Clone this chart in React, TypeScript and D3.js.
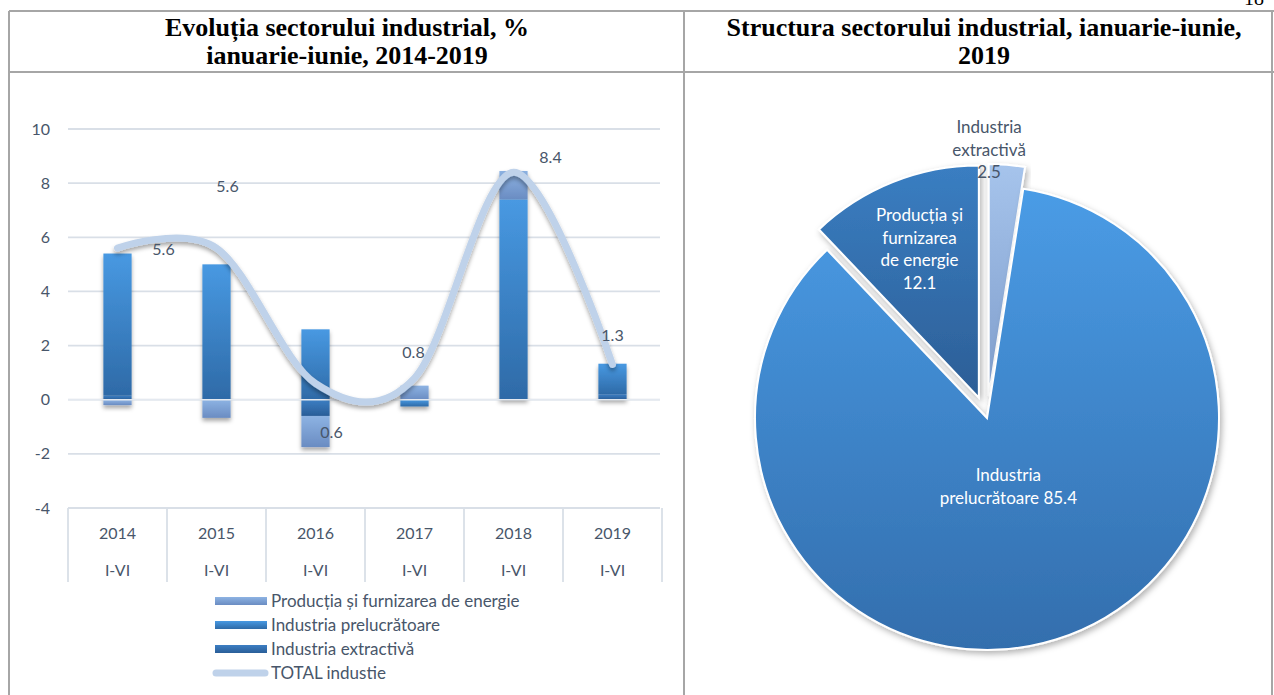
import React from 'react';
import * as d3 from 'd3';

// ---------- data ----------
const years = ['2014', '2015', '2016', '2017', '2018', '2019'];
const periods = ['I-VI', 'I-VI', 'I-VI', 'I-VI', 'I-VI', 'I-VI'];
const extractiva = [0.15, 0, -0.6, 0, 0, 0.2];
const prelucratoare = [5.25, 5.0, 2.6, -0.25, 7.4, 1.13];
const energie = [-0.2, -0.67, -1.15, 0.52, 1.05, 0];
const total = [5.6, 5.6, 0.6, 0.8, 8.4, 1.3];
const totalLabels = ['5.6', '5.6', '0.6', '0.8', '8.4', '1.3'];
const yTicks = [-4, -2, 0, 2, 4, 6, 8, 10];
const legendNames = [
  'Producția și furnizarea de energie',
  'Industria prelucrătoare',
  'Industria extractivă',
  'TOTAL industie',
];

const pieNames = ['Industria extractivă', 'Industria prelucrătoare', 'Producția și furnizarea de energie'];
const pieValues = [2.5, 85.4, 12.1];
const pieLabelLines = [
  ['Industria', 'extractivă', '2.5'],
  ['Industria', 'prelucrătoare 85.4'],
  ['Producția și', 'furnizarea', 'de energie', '12.1'],
];

// ---------- style ----------
const FONT = 'Lato, "Open Sans", sans-serif';
const TXT = '#48566a';
const GRID = '#d9dfe7';
const BORDER = '#a6a6a6';
const labelOffsets = [
  [46, 1], [11, -62], [16, 49], [-1, -26], [37, -15], [0, -29],
];
const pieExplode = [22, 0, 22];
const pieLabelRadius = [247, 72, 160];
const pieLabelDx = [-19, 0, 0];
const pieLabelColor = [TXT, '#ffffff', '#ffffff'];

export default function App() {
  const W = 1274;
  const H = 695;

  const x = d3.scaleBand<string>().domain(years).range([68, 662]).padding(0);
  const y = d3.scaleLinear().domain([-4, 10]).range([508, 129]);
  const cx = (yr: string) => (x(yr) as number) + x.bandwidth() / 2;
  const barW = x.bandwidth() * 0.285;

  const keys = ['extractiva', 'prelucratoare', 'energie'];
  const rows = years.map((yr, i) => ({
    year: yr,
    extractiva: extractiva[i],
    prelucratoare: prelucratoare[i],
    energie: energie[i],
  }));
  const stacked = d3.stack<any>().keys(keys).offset(d3.stackOffsetDiverging)(rows);
  const grad: Record<string, string> = {
    extractiva: 'url(#gExt)',
    prelucratoare: 'url(#gMan)',
    energie: 'url(#gEn)',
  };

  const lineGen = d3
    .line<number>()
    .x((_, i) => cx(years[i]))
    .y((d) => y(d))
    .curve(d3.curveCatmullRom.alpha(0));

  // pie
  const pcx = 987;
  const pcy = 418;
  const R = 232;
  const pieGen = d3.pie<number>().sort(null).value((d) => d);
  const arcs = pieGen(pieValues);
  const arcGen = d3.arc<any>().innerRadius(0).outerRadius(R);
  const pieGrad = ['url(#pExt)', 'url(#pMan)', 'url(#pEn)'];

  return (
    <svg
      width={W}
      height={H}
      style={{ position: 'absolute', left: 0, top: 0, background: '#fff' }}
      fontFamily={FONT}
    >
      <defs>
        <linearGradient id="gEn" x1="0" y1="0" x2="0" y2="1">
          <stop offset="0" stopColor="#8db3e3" />
          <stop offset="1" stopColor="#6a8cc2" />
        </linearGradient>
        <linearGradient id="gMan" x1="0" y1="0" x2="0" y2="1">
          <stop offset="0" stopColor="#4899e2" />
          <stop offset="1" stopColor="#2e6aa7" />
        </linearGradient>
        <linearGradient id="gExt" x1="0" y1="0" x2="0" y2="1">
          <stop offset="0" stopColor="#3c7ec3" />
          <stop offset="1" stopColor="#2a5e98" />
        </linearGradient>
        <linearGradient id="pMan" x1="0" y1="0" x2="0" y2="1">
          <stop offset="0" stopColor="#4a9ce6" />
          <stop offset="1" stopColor="#336ead" />
        </linearGradient>
        <linearGradient id="pEn" x1="0" y1="0" x2="0" y2="1">
          <stop offset="0" stopColor="#3a7ec2" />
          <stop offset="1" stopColor="#2c5e96" />
        </linearGradient>
        <linearGradient id="pExt" x1="0" y1="0" x2="0" y2="1">
          <stop offset="0" stopColor="#a6c4ec" />
          <stop offset="1" stopColor="#7f9dcb" />
        </linearGradient>
        <filter id="shadow" x="-20%" y="-20%" width="140%" height="150%">
          <feDropShadow dx="0" dy="3" stdDeviation="2" floodColor="#000" floodOpacity="0.35" />
        </filter>
        <filter id="pshadow" x="-10%" y="-10%" width="125%" height="125%">
          <feDropShadow dx="2" dy="3" stdDeviation="3" floodColor="#000" floodOpacity="0.3" />
        </filter>
      </defs>

      {/* page number (cut off at the top, as in the source page) */}
      <text x={1244} y={5} fontFamily='"Liberation Serif", serif' fontSize={20} fill="#000">
        18
      </text>

      {/* table borders */}
      <g stroke={BORDER} strokeWidth={2}>
        <line x1={9} y1={11} x2={1274} y2={11} />
        <line x1={9} y1={72} x2={1274} y2={72} />
        <line x1={9} y1={11} x2={9} y2={695} />
        <line x1={684} y1={11} x2={684} y2={695} />
        <line x1={1272} y1={11} x2={1272} y2={695} />
      </g>

      {/* titles */}
      <g fontFamily='"Liberation Serif", "Times New Roman", serif' fontWeight="bold" fontSize={26} fill="#000" textAnchor="middle">
        <text x={347} y={36}>Evoluția sectorului industrial, %</text>
        <text x={347} y={64}>ianuarie-iunie, 2014-2019</text>
        <text x={984} y={36}>Structura sectorului industrial, ianuarie-iunie,</text>
        <text x={984} y={64}>2019</text>
      </g>

      {/* gridlines */}
      <g>
        {yTicks.map((t) => (
          <line key={t} x1={68} x2={660} y1={y(t)} y2={y(t)} stroke={GRID} strokeWidth={1.8} />
        ))}
      </g>
      {/* y tick labels */}
      <g fontSize={16} fill={TXT} textAnchor="end">
        {yTicks.map((t) => (
          <text key={t} x={50} y={y(t)} dy="0.35em">
            {t}
          </text>
        ))}
      </g>

      {/* category axis box */}
      <g stroke={GRID} strokeWidth={1.8}>
        {[...years.map((yr) => x(yr) as number), 662].map((bx, i) => (
          <line key={i} x1={bx} x2={bx} y1={y(-4)} y2={582} />
        ))}
      </g>
      <g fontSize={16} fill={TXT} textAnchor="middle">
        {years.map((yr, i) => (
          <g key={yr}>
            <text x={cx(yr)} y={533} dy="0.35em">
              {yr}
            </text>
            <text x={cx(yr)} y={570} dy="0.35em">
              {periods[i]}
            </text>
          </g>
        ))}
      </g>

      {/* bars */}
      <g filter="url(#shadow)">
        {stacked.map((s) =>
          s.map((d, i) => {
            const y0 = y(d[0]);
            const y1 = y(d[1]);
            const top = Math.min(y0, y1);
            const h = Math.abs(y0 - y1);
            if (h < 0.01) return null;
            return (
              <rect
                key={s.key + i}
                x={cx(years[i]) - barW / 2}
                y={top}
                width={barW}
                height={h}
                fill={grad[s.key]}
              />
            );
          })
        )}
      </g>
      {/* zero line over bars */}
      <line x1={68} x2={660} y1={y(0)} y2={y(0)} stroke="#e4e9f0" strokeWidth={1.6} />

      {/* total line */}
      <path
        d={lineGen(total) || ''}
        fill="none"
        stroke="#bfd2ea"
        strokeWidth={7}
        strokeLinecap="round"
        filter="url(#shadow)"
      />

      {/* total labels */}
      <g fontSize={16} fill={TXT} textAnchor="middle">
        {total.map((v, i) => (
          <text key={i} x={cx(years[i]) + labelOffsets[i][0]} y={y(v) + labelOffsets[i][1]} dy="0.35em">
            {totalLabels[i]}
          </text>
        ))}
      </g>

      {/* legend */}
      <g fontSize={17} fill={TXT}>
        {legendNames.map((n, i) => {
          const ly = 601 + i * 24;
          return (
            <g key={n}>
              {i < 3 ? (
                <rect
                  x={215}
                  y={ly - 4}
                  width={52}
                  height={8}
                  fill={i === 0 ? 'url(#gEn)' : i === 1 ? 'url(#gMan)' : 'url(#gExt)'}
                />
              ) : (
                <line x1={216} x2={265} y1={ly} y2={ly} stroke="#bfd2ea" strokeWidth={7} strokeLinecap="round" />
              )}
              <text x={271} y={ly} dy="0.35em">
                {n}
              </text>
            </g>
          );
        })}
      </g>

      {/* pie */}
      <g>
        {arcs.map((a, i) => {
          const mid = (a.startAngle + a.endAngle) / 2;
          const ox = pieExplode[i] * Math.sin(mid);
          const oy = -pieExplode[i] * Math.cos(mid);
          return (
            <path
              key={pieNames[i]}
              d={arcGen(a) || ''}
              transform={`translate(${pcx + ox},${pcy + oy})`}
              fill={pieGrad[i]}
              stroke="#ffffff"
              strokeWidth={2}
              filter="url(#pshadow)"
            />
          );
        })}
      </g>
      <g fontSize={17} textAnchor="middle">
        {arcs.map((a, i) => {
          const mid = (a.startAngle + a.endAngle) / 2;
          const ox = pieExplode[i] * Math.sin(mid);
          const oy = -pieExplode[i] * Math.cos(mid);
          const lx = pcx + ox + pieLabelRadius[i] * Math.sin(mid) + pieLabelDx[i];
          const ly = pcy + oy - pieLabelRadius[i] * Math.cos(mid);
          const lines = pieLabelLines[i];
          const lh = 22.5;
          const start = ly - ((lines.length - 1) * lh) / 2;
          return (
            <text key={i} fill={pieLabelColor[i]}>
              {lines.map((l, j) => (
                <tspan key={j} x={lx} y={start + j * lh} dy="0.35em">
                  {l}
                </tspan>
              ))}
            </text>
          );
        })}
      </g>
    </svg>
  );
}
